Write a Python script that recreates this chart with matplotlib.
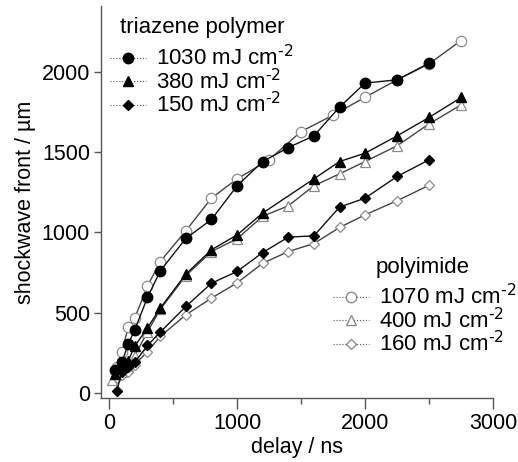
import numpy as np
import matplotlib.pyplot as plt
from matplotlib.lines import Line2D

plt.rcParams['font.family'] = ['Liberation Sans', 'DejaVu Sans']
plt.rcParams['mathtext.default'] = 'regular'

# triazene polymer (filled markers)
tz1030_x = [50, 100, 150, 200, 300, 400, 600, 800, 1000, 1200, 1400, 1600, 1800, 2000, 2250, 2500]
tz1030_y = [140, 190, 305, 392, 594, 760, 962, 1080, 1290, 1441, 1528, 1601, 1780, 1930, 1950, 2054]
tz380_x = [50, 100, 150, 200, 300, 400, 600, 800, 1000, 1200, 1600, 1800, 2000, 2250, 2500, 2750]
tz380_y = [120, 160, 200, 290, 405, 528, 740, 891, 984, 1120, 1333, 1441, 1493, 1601, 1716, 1840]
tz150_x = [60, 100, 150, 200, 300, 400, 600, 800, 1000, 1200, 1400, 1600, 1800, 2000, 2250, 2500]
tz150_y = [12, 130, 160, 190, 295, 378, 538, 683, 756, 874, 970, 978, 1157, 1213, 1348, 1452]

# polyimide (open markers)
pi1070_x = [60, 100, 150, 200, 300, 400, 600, 800, 1000, 1250, 1500, 1750, 2000, 2250, 2500, 2750]
pi1070_y = [160, 255, 410, 465, 665, 818, 1010, 1213, 1333, 1452, 1628, 1730, 1842, 1950, 2050, 2195]
pi400_x = [25, 100, 150, 200, 300, 400, 600, 800, 1000, 1200, 1400, 1600, 1800, 2000, 2250, 2500, 2750]
pi400_y = [80, 130, 170, 230, 380, 520, 730, 880, 960, 1100, 1165, 1290, 1364, 1441, 1539, 1676, 1794]
pi160_x = [60, 100, 150, 200, 300, 400, 600, 800, 1000, 1200, 1400, 1600, 1800, 2000, 2250, 2500]
pi160_y = [90, 110, 130, 175, 257, 351, 486, 590, 685, 807, 880, 930, 1030, 1109, 1197, 1293]

tz_labels = [r'1030 mJ cm$^{\text{-2}}$', r'380 mJ cm$^{\text{-2}}$', r'150 mJ cm$^{\text{-2}}$']
pi_labels = [r'1070 mJ cm$^{\text{-2}}$', r'400 mJ cm$^{\text{-2}}$', r'160 mJ cm$^{\text{-2}}$']

fig = plt.figure(figsize=(5.18, 4.62), dpi=100)
ax = fig.add_axes([0.195, 0.139, 0.757, 0.848])

grey = '#8c8c8c'
opens = [(pi1070_x, pi1070_y, 'o', 7.5), (pi400_x, pi400_y, '^', 7.5), (pi160_x, pi160_y, 'D', 5.5)]
filled = [(tz1030_x, tz1030_y, 'o', 7.5), (tz380_x, tz380_y, '^', 7.5), (tz150_x, tz150_y, 'D', 5.5)]

for x, y, m, s in opens:
    ax.plot(x, y, color='#444444', lw=1.0, marker=m, ms=s, mfc='white',
            mec=grey, mew=0.9)
for x, y, m, s in filled:
    ax.plot(x, y, color='#111111', lw=1.0, marker=m, ms=s, mfc='black',
            mec='black')

ax.set_xlim(-63, 3000)
ax.set_ylim(-31, 2410)
ax.set_xticks([0, 1000, 2000, 3000])
ax.set_xticks([500, 1500, 2500], minor=True)
ax.set_yticks([0, 500, 1000, 1500, 2000])
for s in ['top', 'right']:
    ax.spines[s].set_visible(False)
for s in ['left', 'bottom']:
    ax.spines[s].set_color('#555555')
    ax.spines[s].set_linewidth(1.0)
ax.tick_params(which='major', length=8, width=1.0, color='#555555', labelsize=15.5, pad=3)
ax.tick_params(axis='y', which='major', length=5)
ax.tick_params(which='minor', length=4, width=1.0, color='#555555')

ax.set_xlabel('delay / ns', fontsize=15.5, labelpad=2)
ax.set_ylabel('shockwave front / µm', fontsize=15.5, labelpad=4)

def handles(marker_list, face, edge):
    out = []
    for m, s in marker_list:
        out.append(Line2D([], [], color='#555555', lw=0.8, ls=':', marker=m, ms=s,
                          mfc=face, mec=edge))
    return out

mk = [('o', 7.5), ('^', 7.5), ('D', 5.5)]
leg_kw = dict(loc='upper left', frameon=False, fontsize=16, borderpad=0, borderaxespad=0,
              handlelength=1.6, handletextpad=0.45, labelspacing=-0.07)
leg1 = ax.legend(handles(mk, 'black', 'black'), tz_labels,
                 bbox_to_anchor=(0.023, 0.9), **leg_kw)
ax.add_artist(leg1)
ax.legend(handles(mk, 'white', grey), pi_labels,
          bbox_to_anchor=(0.592, 0.29), **leg_kw)

ax.text(0.048, 0.944, 'triazene polymer', transform=ax.transAxes, fontsize=16, va='center')
ax.text(0.699, 0.332, 'polyimide', transform=ax.transAxes, fontsize=16, va='center')

fig.savefig('out.png', dpi=100)
